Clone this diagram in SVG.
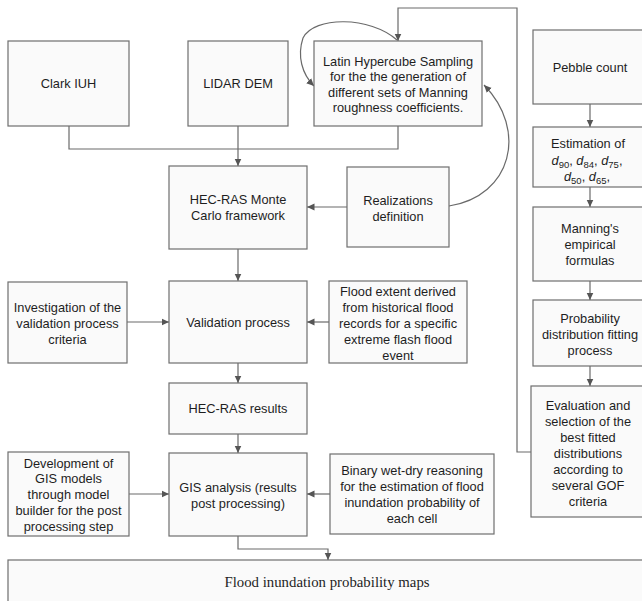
<svg xmlns="http://www.w3.org/2000/svg" width="642" height="601" viewBox="0 0 642 601">
<style>
.box{fill:#fafafa;stroke:#6e6e6e;stroke-width:1.2}
.t{font-family:"Liberation Sans",Arial,sans-serif;font-size:12.8px;fill:#1e1e1e;text-anchor:middle}
.s{font-family:"Liberation Serif","Times New Roman",serif;font-size:14.8px;fill:#1e1e1e;text-anchor:middle}
.c{fill:none;stroke:#6a6a6a;stroke-width:1.2}
.sub{font-size:9.5px}
</style>
<defs>
<marker id="ah" markerWidth="8" markerHeight="8" refX="7.5" refY="4" orient="auto" markerUnits="userSpaceOnUse">
<path d="M0,0.5 L7.5,4 L0,7.5 z" fill="#555"/>
</marker>
</defs>
<rect width="642" height="601" fill="#fff"/>
<g id="connectors">
<path class="c" d="M69,126 V149 H398 V126"/>
<path class="c" d="M238,126 V166" marker-end="url(#ah)"/>
<path class="c" d="M238,249 V281" marker-end="url(#ah)"/>
<path class="c" d="M238,363 V383" marker-end="url(#ah)"/>
<path class="c" d="M238,434 V453" marker-end="url(#ah)"/>
<path class="c" d="M238,536 V549 H328 V560" marker-end="url(#ah)"/>
<path class="c" d="M347,207 H307" marker-end="url(#ah)"/>
<path class="c" d="M127,322 H169" marker-end="url(#ah)"/>
<path class="c" d="M329,322 H307" marker-end="url(#ah)"/>
<path class="c" d="M129,494 H169" marker-end="url(#ah)"/>
<path class="c" d="M330,494 H307" marker-end="url(#ah)"/>
<path class="c" d="M590,104 V127" marker-end="url(#ah)"/>
<path class="c" d="M590,187 V207" marker-end="url(#ah)"/>
<path class="c" d="M590,281 V300" marker-end="url(#ah)"/>
<path class="c" d="M590,366 V386" marker-end="url(#ah)"/>
<path class="c" d="M531,452 H517 V8 H398 V41" marker-end="url(#ah)"/>
<path class="c" d="M449,206 C512,196 528,130 484,85" marker-end="url(#ah)"/>
<path class="c" d="M397,40 C370,16 314,16 303,38 C297,56 302,74 314,86" marker-end="url(#ah)"/>
</g>
<g id="clark"><rect class="box" x="8" y="41" width="121" height="85"/><text class="t" x="68.5" y="88">Clark IUH</text></g>
<g id="lidar"><rect class="box" x="188" y="41" width="100" height="85"/><text class="t" x="238" y="88">LIDAR DEM</text></g>
<g id="lhs"><rect class="box" x="314" y="41" width="168" height="85"/>
<text class="t" x="398" y="65.5">Latin Hypercube Sampling</text>
<text class="t" x="398" y="81">for the the generation of</text>
<text class="t" x="398" y="96.5">different sets of Manning</text>
<text class="t" x="398" y="112">roughness coefficients.</text></g>
<g id="pebble"><rect class="box" x="533" y="30" width="115" height="74"/><text class="t" x="590" y="71.5">Pebble  count</text></g>
<g id="estimation"><rect class="box" x="533" y="127" width="115" height="60"/>
<text class="t" x="588" y="147.5">Estimation of</text>
<text class="t" x="587" y="164.5"><tspan font-style="italic">d</tspan><tspan class="sub" dy="3">90</tspan><tspan dy="-3">, </tspan><tspan font-style="italic">d</tspan><tspan class="sub" dy="3">84</tspan><tspan dy="-3">, </tspan><tspan font-style="italic">d</tspan><tspan class="sub" dy="3">75</tspan><tspan dy="-3">,</tspan></text>
<text class="t" x="587" y="180.5"><tspan font-style="italic">d</tspan><tspan class="sub" dy="3">50</tspan><tspan dy="-3">, </tspan><tspan font-style="italic">d</tspan><tspan class="sub" dy="3">65</tspan><tspan dy="-3">,</tspan></text></g>
<g id="manning"><rect class="box" x="533" y="207" width="115" height="74"/>
<text class="t" x="590" y="232.5">Manning's</text>
<text class="t" x="590" y="249">empirical</text>
<text class="t" x="590" y="265">formulas</text></g>
<g id="probability"><rect class="box" x="533" y="300" width="115" height="66"/>
<text class="t" x="590" y="322.5">Probability</text>
<text class="t" x="590" y="338.5">distribution fitting</text>
<text class="t" x="590" y="355">process</text></g>
<g id="evaluation"><rect class="box" x="531" y="386" width="117" height="131"/>
<text class="t" x="588" y="409.5">Evaluation and</text>
<text class="t" x="588" y="426">selection of the</text>
<text class="t" x="588" y="441.5">best fitted</text>
<text class="t" x="588" y="457.5">distributions</text>
<text class="t" x="588" y="473.5">according to</text>
<text class="t" x="588" y="490">several GOF</text>
<text class="t" x="588" y="506">criteria</text></g>
<g id="hecmc"><rect class="box" x="169" y="166" width="138" height="83"/>
<text class="t" x="238" y="203.5">HEC-RAS Monte</text>
<text class="t" x="238" y="220">Carlo framework</text></g>
<g id="realizations"><rect class="box" x="347" y="167" width="102" height="80"/>
<text class="t" x="398" y="205">Realizations</text>
<text class="t" x="398" y="220.5">definition</text></g>
<g id="investigation"><rect class="box" x="8" y="282" width="119" height="81"/>
<text class="t" x="67.5" y="311.5">Investigation of the</text>
<text class="t" x="67.5" y="327.5">validation process</text>
<text class="t" x="67.5" y="344">criteria</text></g>
<g id="validation"><rect class="box" x="169" y="281" width="138" height="82"/>
<text class="t" x="238" y="326.5">Validation process</text></g>
<g id="floodextent"><rect class="box" x="329" y="281" width="138" height="82"/>
<text class="t" x="398" y="295.5">Flood extent derived</text>
<text class="t" x="398" y="311.5">from historical flood</text>
<text class="t" x="398" y="327.5">records for a specific</text>
<text class="t" x="398" y="343.5">extreme flash flood</text>
<text class="t" x="398" y="359.5">event</text></g>
<g id="hecresults"><rect class="box" x="169" y="383" width="138" height="51"/>
<text class="t" x="238" y="412.5">HEC-RAS results</text></g>
<g id="development"><rect class="box" x="8" y="452" width="121" height="84"/>
<text class="t" x="68.5" y="467.5">Development of</text>
<text class="t" x="68.5" y="482.5">GIS models</text>
<text class="t" x="68.5" y="498.5">through model</text>
<text class="t" x="68.5" y="515">builder for the post</text>
<text class="t" x="68.5" y="531">processing step</text></g>
<g id="gis"><rect class="box" x="169" y="453" width="138" height="83"/>
<text class="t" x="238" y="491.5">GIS analysis (results</text>
<text class="t" x="238" y="507.5">post processing)</text></g>
<g id="binary"><rect class="box" x="330" y="454" width="164" height="80"/>
<text class="t" x="412" y="474.5">Binary wet-dry reasoning</text>
<text class="t" x="412" y="491">for the estimation of flood</text>
<text class="t" x="412" y="507">inundation probability of</text>
<text class="t" x="412" y="522.5">each cell</text></g>
<g id="maps"><rect class="box" x="8" y="560" width="640" height="48"/>
<text class="s" x="327" y="587">Flood inundation probability maps</text></g>
</svg>
